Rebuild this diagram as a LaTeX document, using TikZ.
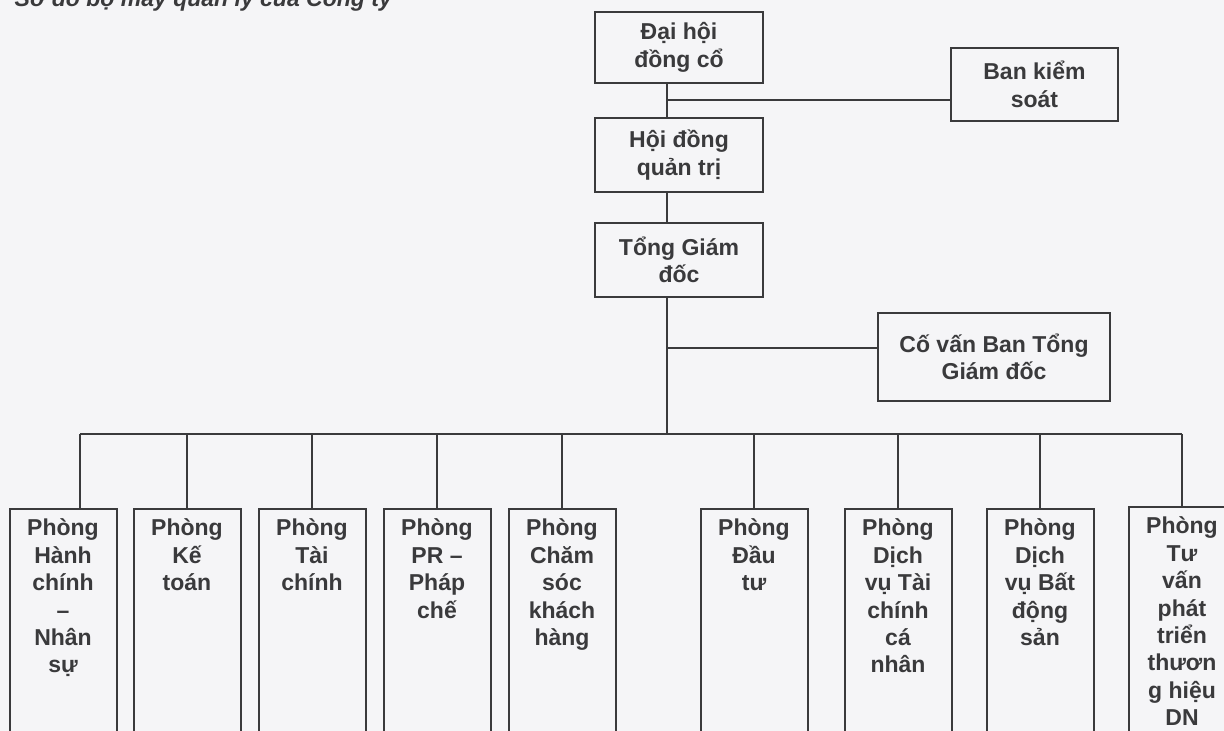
\documentclass[tikz,border=0pt]{standalone}
\usepackage{fontspec}
\setmainfont{Liberation Sans}
\usetikzlibrary{positioning}
\definecolor{ink}{RGB}{58,58,60}
\definecolor{paper}{RGB}{245,245,247}

\begin{document}
\begin{tikzpicture}[
  x=0.75pt, y=-0.75pt,
  every node/.style={font=\fontsize{17.25}{20.55}\selectfont\bfseries, text=ink},
  head/.style={draw=ink, line width=1.5pt, align=center, minimum width=126pt, minimum height=55pt},
  dept/.style={draw=ink, line width=1.5pt, align=center, anchor=north, minimum width=80.25pt, inner ysep=7.5pt, text depth=190pt},
  ln/.style={draw=ink, line width=1.5pt}
]
\useasboundingbox (0,0) rectangle (1224,731);
\fill[paper] (0,0) rectangle (1224,731);
\clip (0,0) rectangle (1224,731);

\node[anchor=base west, font=\fontsize{17.25}{20.7}\selectfont\bfseries\itshape] (title) at (10,7) {Sơ đồ bộ máy quản lý của Công ty};

\node[head, minimum height=53.25pt] (dhdc) at (679,47.5) {Đại hội\\đồng cổ};
\node[head, minimum width=125.25pt, minimum height=54.75pt] (bks) at (1034.5,84.5) {Ban kiểm\\soát};
\node[head] (hdqt) at (679,155) {Hội đồng\\quản trị};
\node[head] (tgd) at (679,260) {Tổng Giám\\đốc};
\node[head, minimum width=174pt, minimum height=66pt] (covan) at (994,357) {Cố vấn Ban Tổng\\Giám đốc};

\node[dept] (d1) at (63,508) {Phòng\\Hành\\chính\\–\\Nhân\\sự};
\node[dept] (d2) at (187,508) {Phòng\\Kế\\toán};
\node[dept] (d3) at (312,508) {Phòng\\Tài\\chính};
\node[dept] (d4) at (437,508) {Phòng\\PR –\\Pháp\\chế};
\node[dept] (d5) at (562,508) {Phòng\\Chăm\\sóc\\khách\\hàng};
\node[dept] (d6) at (754,508) {Phòng\\Đầu\\tư};
\node[dept] (d7) at (898,508) {Phòng\\Dịch\\vụ Tài\\chính\\cá\\nhân};
\node[dept] (d8) at (1040,508) {Phòng\\Dịch\\vụ Bất\\động\\sản};
\node[dept] (d9) at (1182,506) {Phòng\\Tư\\vấn\\phát\\triển\\thươn\\g hiệu\\DN};

\coordinate (spine) at (667,0);
\coordinate (bksj) at (667,100);
\coordinate (cvj) at (667,348);
\coordinate (busl) at (80,434);
\coordinate (busr) at (1182,434);

\draw[ln] (dhdc.south -| spine) -- (hdqt.north -| spine);
\draw[ln] (bksj) -- (bksj -| bks.west);
\draw[ln] (hdqt.south -| spine) -- (tgd.north -| spine);
\draw[ln] (tgd.south -| spine) -- (spine |- busl);
\draw[ln] (cvj) -- (cvj -| covan.west);
\draw[ln] (busl) -- (busr);
\draw[ln] (busl) -- (busl |- d1.north);
\foreach \d in {d2,d3,d4,d5,d6,d7,d8,d9} \draw[ln] (\d.north |- busl) -- (\d.north);
\end{tikzpicture}
\end{document}
